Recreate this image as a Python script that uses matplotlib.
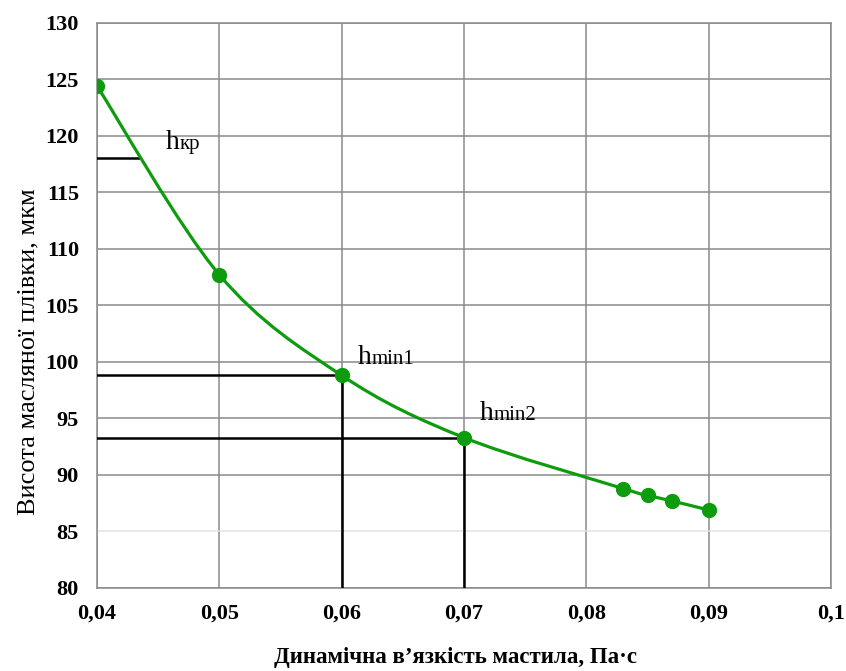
import matplotlib
matplotlib.use("Agg")
import matplotlib.pyplot as plt
from matplotlib.path import Path
from matplotlib.patches import PathPatch
import numpy as np

# viscosity, Pa*s  /  oil film height, um
viscosity = [0.04, 0.05, 0.06, 0.07, 0.083, 0.085, 0.087, 0.09]
film_height = [124.4, 107.7, 98.8, 93.3, 88.8, 88.2, 87.7, 86.9]

h_kr = 118.0
h_kr_x = 0.0435
h_min1 = (0.06, 98.8)
h_min2 = (0.07, 93.3)

x_ticks = [0.04, 0.05, 0.06, 0.07, 0.08, 0.09, 0.1]
x_tick_labels = ["0,04", "0,05", "0,06", "0,07", "0,08", "0,09", "0,1"]
y_ticks = [80, 85, 90, 95, 100, 105, 110, 115, 120, 125, 130]

green = '#0e9c0e'
grid_col = '#8a8a8a'

plt.rcParams['font.family'] = ['Liberation Serif', 'DejaVu Serif']

fig = plt.figure(figsize=(8.46, 6.71), dpi=100)
ax = fig.add_axes([0.1147, 0.1237, 0.8676, 0.8425])

# smooth line (excel style) as bezier segments through the points
pts = np.column_stack([viscosity, film_height])
verts = [pts[0]]
codes = [Path.MOVETO]
n = len(pts)
for i in range(n - 1):
    p0 = pts[i - 1] if i > 0 else pts[i]
    p1 = pts[i]
    p2 = pts[i + 1]
    p3 = pts[i + 2] if i + 2 < n else pts[i + 1]
    c1 = p1 + (p2 - p0) / 6.0
    c2 = p2 - (p3 - p1) / 6.0
    verts += [c1, c2, p2]
    codes += [Path.CURVE4] * 3
ax.add_patch(PathPatch(Path(verts, codes), facecolor='none', edgecolor=green,
                       lw=2.3, zorder=4, capstyle='round'))
ax.plot(viscosity, film_height, 'o', color=green, ms=10, zorder=5)

# reference lines
ax.plot([0.04, h_kr_x], [h_kr, h_kr], color='black', lw=1.8, zorder=3)
for xv, yv in (h_min1, h_min2):
    ax.plot([0.04, xv], [yv, yv], color='black', lw=1.8, zorder=3)
    ax.plot([xv, xv], [80, yv], color='black', lw=1.8, zorder=3)


def label(x, y, sub):
    ax.text(x, y, "h", fontsize=20, ha='left', va='baseline', zorder=6)
    ax.annotate(sub, (x, y), xytext=(10, 0), textcoords='offset points',
                fontsize=15, ha='left', va='baseline', zorder=6)


label(0.0456, 118.8, "кр")
label(0.0613, 99.8, "min1")
label(0.0713, 94.9, "min2")

ax.set_xlim(0.04, 0.1)
ax.set_ylim(80, 130)
ax.set_xticks(x_ticks)
ax.set_xticklabels(x_tick_labels)
ax.set_yticks(y_ticks)

ax.grid(True, color=grid_col, lw=1.1)
ax.set_axisbelow(True)
for gl, yv in zip(ax.get_ygridlines(), y_ticks):
    if yv == 85:
        gl.set_color('#e2e2e2')
for s in ax.spines.values():
    s.set_color(grid_col)
    s.set_linewidth(1.1)

ax.tick_params(length=0, labelsize=16)
ax.tick_params(axis='y', pad=13)
ax.tick_params(axis='x', pad=11)
for t in ax.get_xticklabels() + ax.get_yticklabels():
    t.set_fontweight('bold')

ax.set_xlabel("Динамічна в’язкість мастила, Па·с", fontsize=16.5,
              fontweight='bold')
ax.xaxis.set_label_coords(0.4877, -0.104)
ax.set_ylabel("Висота масляної плівки, мкм", fontsize=19)
ax.yaxis.set_label_coords(-0.078, 0.4175)

fig.savefig("out.png", dpi=100)
